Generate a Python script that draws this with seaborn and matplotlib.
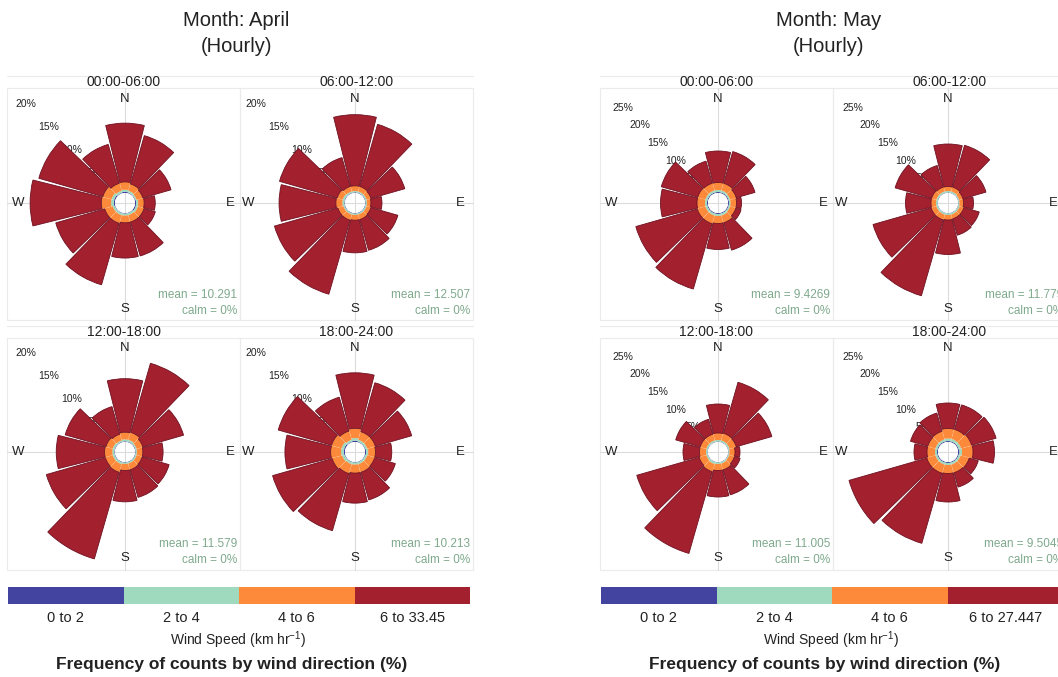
import numpy as np
import seaborn as sns
import matplotlib.pyplot as plt
from matplotlib.colors import ListedColormap
from matplotlib.patches import Rectangle

# wind direction sectors (deg, clockwise from N) and 6-hour periods
directions = [0, 30, 60, 90, 120, 150, 180, 210, 240, 270, 300, 330]
periods = ["00:00-06:00", "06:00-12:00", "12:00-18:00", "18:00-24:00"]
speed_colors = ["#4343a0", "#9fdabf", "#fc8a3a", "#a3202e"]

apr_bins = ["0 to 2", "2 to 4", "4 to 6", "6 to 33.45"]
may_bins = ["0 to 2", "2 to 4", "4 to 6", "6 to 27.447"]
apr_means = ["10.291", "12.507", "11.579", "10.213"]
may_means = ["9.4269", "11.779", "11.005", "9.5045"]

# % of counts per sector, one row per period, one list per speed bin
apr_low = [[0.2, 0.1, 0.1, 0.2, 0.2, 0.1, 0.1, 0.1, 0.1, 0.2, 0.2, 0.1],
           [0.1, 0.1, 0.1, 0.1, 0.1, 0.1, 0.1, 0.1, 0.1, 0.1, 0.1, 0.1],
           [0.1, 0.1, 0.1, 0.1, 0.1, 0.1, 0.1, 0.1, 0.1, 0.1, 0.1, 0.1],
           [0.2, 0.1, 0.1, 0.2, 0.1, 0.1, 0.1, 0.1, 0.1, 0.2, 0.2, 0.1]]
apr_mid = [[0.3, 0.3, 0.2, 0.3, 0.3, 0.3, 0.3, 0.3, 0.3, 0.4, 0.4, 0.3],
           [0.2, 0.2, 0.2, 0.2, 0.2, 0.2, 0.2, 0.2, 0.2, 0.3, 0.3, 0.2],
           [0.3, 0.3, 0.2, 0.2, 0.2, 0.2, 0.2, 0.3, 0.3, 0.3, 0.3, 0.2],
           [0.4, 0.3, 0.3, 0.3, 0.3, 0.3, 0.3, 0.3, 0.4, 0.4, 0.4, 0.3]]
apr_orange = [[1.2, 1.1, 1.0, 0.9, 1.0, 1.1, 1.1, 1.3, 1.3, 1.5, 1.4, 1.2],
              [0.8, 0.8, 0.7, 0.6, 0.7, 0.8, 0.8, 0.9, 0.9, 1.0, 0.9, 0.8],
              [1.1, 1.2, 1.0, 0.9, 0.9, 1.0, 1.0, 1.3, 1.2, 1.2, 1.1, 1.0],
              [1.5, 1.3, 1.3, 1.1, 1.2, 1.3, 1.3, 1.5, 1.6, 1.6, 1.6, 1.4]]
apr_red = [[9.0, 7.7, 4.5, 1.7, 1.8, 5.4, 5.4, 9.8, 7.8, 10.9, 10.2, 6.2],
           [10.9, 9.9, 5.4, 1.7, 4.3, 4.9, 5.0, 11.8, 10.1, 8.7, 9.2, 4.6],
           [8.2, 11.0, 6.5, 3.1, 4.3, 4.4, 4.8, 13.8, 9.4, 7.4, 6.5, 4.4],
           [8.5, 7.8, 5.8, 2.5, 3.3, 4.4, 4.6, 9.1, 9.5, 7.0, 8.5, 5.4]]

may_low = [[0.2, 0.2, 0.2, 0.2, 0.2, 0.2, 0.2, 0.2, 0.2, 0.2, 0.2, 0.2],
           [0.1, 0.1, 0.1, 0.1, 0.1, 0.1, 0.1, 0.1, 0.1, 0.1, 0.1, 0.1],
           [0.1, 0.1, 0.1, 0.1, 0.1, 0.1, 0.1, 0.1, 0.1, 0.1, 0.1, 0.1],
           [0.2, 0.2, 0.2, 0.3, 0.2, 0.2, 0.2, 0.2, 0.2, 0.2, 0.2, 0.2]]
may_mid = [[0.4, 0.4, 0.3, 0.3, 0.3, 0.4, 0.4, 0.4, 0.4, 0.4, 0.4, 0.4],
           [0.3, 0.3, 0.2, 0.2, 0.3, 0.3, 0.3, 0.3, 0.3, 0.3, 0.3, 0.3],
           [0.3, 0.3, 0.3, 0.2, 0.2, 0.3, 0.3, 0.4, 0.3, 0.3, 0.3, 0.3],
           [0.5, 0.5, 0.5, 0.5, 0.4, 0.4, 0.4, 0.4, 0.4, 0.4, 0.4, 0.4]]
may_orange = [[1.5, 1.5, 1.3, 1.2, 1.2, 1.5, 1.5, 1.7, 1.7, 1.6, 1.6, 1.5],
              [0.9, 0.9, 0.8, 0.8, 0.9, 0.9, 1.0, 1.1, 1.1, 1.0, 1.0, 0.9],
              [1.4, 1.5, 1.4, 1.1, 1.1, 1.3, 1.3, 1.6, 1.5, 1.3, 1.3, 1.3],
              [2.0, 2.0, 2.2, 2.2, 1.8, 1.7, 1.7, 1.8, 1.8, 1.6, 1.6, 1.7]]
may_red = [[6.3, 6.6, 3.9, 1.0, 1.1, 5.7, 5.2, 13.6, 12.8, 7.3, 7.6, 4.6],
           [8.5, 8.7, 4.8, 2.0, 3.2, 3.4, 6.9, 15.8, 12.1, 5.1, 7.6, 4.5],
           [5.8, 10.6, 7.4, 1.0, 1.2, 5.2, 5.3, 17.0, 13.0, 3.3, 5.1, 3.1],
           [5.1, 5.1, 5.1, 4.3, 1.9, 3.0, 5.7, 14.6, 16.2, 2.6, 3.6, 3.8]]

apr_rings = [5, 10, 15, 20]
may_rings = [5, 10, 15, 20, 25]

sns.set_theme(style="white")
plt.rcParams['font.family'] = ['Liberation Sans', 'DejaVu Sans']
plt.rcParams['mathtext.fontset'] = 'custom'
plt.rcParams['mathtext.rm'] = 'Liberation Sans'

W, H = 1058, 677
fig = plt.figure(figsize=(W / 100, H / 100), dpi=100)

# pixel-coordinate background for frames, labels and titles
bg = fig.add_axes([0, 0, 1, 1])
bg.set_xlim(0, W)
bg.set_ylim(H, 0)
bg.axis('off')

months = [
    dict(title="Month: April", x0=0, bins=apr_bins, means=apr_means,
         data=[apr_low, apr_mid, apr_orange, apr_red], rings=apr_rings,
         scale=6.53, hole=1.53, rmax=22),
    dict(title="Month: May", x0=593, bins=may_bins, means=may_means,
         data=[may_low, may_mid, may_orange, may_red], rings=may_rings,
         scale=5.0, hole=2.0, rmax=28),
]

col_x = [(7, 240), (240, 473)]
body_y = [(88, 320), (338, 570)]
centers_x = [125, 355]
centers_y = [203, 452]
frame_grey = "#ebebeb"
cross_grey = "#dcdcdc"
txt = "#222222"
green = "#7fa98c"
theta = np.deg2rad(directions)

for m in months:
    x0 = m["x0"]
    bg.text(x0 + 236, 20, m["title"], ha="center", va="center", fontsize=14.5, color=txt)
    bg.text(x0 + 236, 46, "(Hourly)", ha="center", va="center", fontsize=14.5, color=txt)

    for k, period in enumerate(periods):
        row, col = divmod(k, 2)
        xl, xr = col_x[col]
        yt, yb = body_y[row]
        xl += x0
        xr += x0
        cx = centers_x[col] + x0
        cy = centers_y[row]

        # panel + strip frame (very faint in the original)
        bg.add_patch(Rectangle((xl, yt), xr - xl, yb - yt, fill=False, ec=frame_grey, lw=0.8))
        bg.plot([xl, xr], [yt - 12, yt - 12], color=frame_grey, lw=0.8)
        bg.text((xl + xr) / 2, yt - 6, period, ha="center", va="center", fontsize=10, color=txt)

        # cross hairs
        bg.plot([cx, cx], [yt, yb], color=cross_grey, lw=0.8)
        bg.plot([xl, xr], [cy, cy], color=cross_grey, lw=0.8)
        bg.text(cx, cy - 104, "N", ha="center", va="center", fontsize=9.5, color=txt)
        bg.text(cx, cy + 106, "S", ha="center", va="center", fontsize=9.5, color=txt)
        bg.text(cx - 107, cy, "W", ha="center", va="center", fontsize=9.5, color=txt)
        bg.text(cx + 105, cy, "E", ha="center", va="center", fontsize=9.5, color=txt)
        bg.text(xr - 3, cy + 92, "mean = " + m["means"][k], ha="right", va="center",
                fontsize=8.5, color=green)
        bg.text(xr - 3, cy + 108, "calm = 0%", ha="right", va="center",
                fontsize=8.5, color=green)

        # the rose itself
        R = (m["rmax"] + m["hole"]) * m["scale"]
        ax = fig.add_axes([(cx - R) / W, (H - cy - R) / H, 2 * R / W, 2 * R / H],
                          projection="polar")
        ax.set_theta_zero_location("N")
        ax.set_theta_direction(-1)
        ax.set_rorigin(-m["hole"])
        ax.set_ylim(0, m["rmax"])
        ax.axis("off")

        for p in m["rings"]:
            ax.text(np.deg2rad(315), p, f"{p}%", ha="center", va="center",
                    fontsize=7.5, color=txt, zorder=0.5)

        bottom = np.zeros(len(directions))
        for b, (series, colr) in enumerate(zip(m["data"], speed_colors)):
            vals = np.array(series[k])
            if b == 3:
                ax.bar(theta, vals, width=np.deg2rad(28), bottom=bottom, color=colr,
                       edgecolor="#6e1020", linewidth=0.6, zorder=1)
            else:
                ax.bar(theta, vals, width=np.deg2rad(29.5), bottom=bottom, color=colr,
                       linewidth=0, zorder=1)
            bottom = bottom + vals

    # speed key
    cax = fig.add_axes([(x0 + 8) / W, (H - 604) / H, 462 / W, 17 / H])
    sns.heatmap(np.arange(len(m["bins"])).reshape(1, -1), ax=cax,
                cmap=ListedColormap(speed_colors), cbar=False,
                xticklabels=m["bins"], yticklabels=False)
    cax.set_xticklabels(m["bins"], rotation=0, fontsize=10.5, color=txt)
    cax.tick_params(axis="x", length=0, pad=5)
    cax.set_xlabel("")
    bg.text(x0 + 238, 640, r"Wind Speed (km hr$^{-1}$)", ha="center", va="center",
            fontsize=10, color=txt)
    bg.text(x0 + 232, 664, "Frequency of counts by wind direction (%)", ha="center",
            va="center", fontsize=12.5, fontweight="bold", color=txt)

fig.savefig("out.png", dpi=100)
